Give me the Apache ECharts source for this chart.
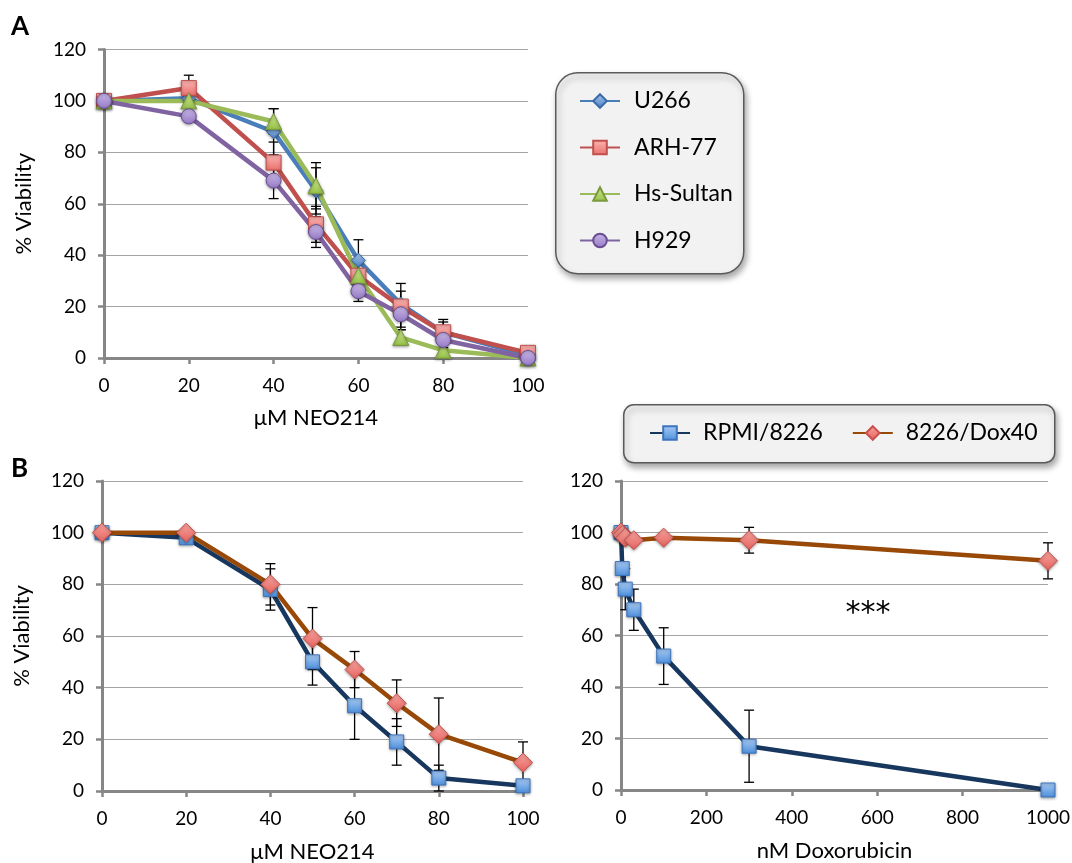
<!DOCTYPE html>
<html>
<head>
<meta charset="utf-8">
<script src="https://cdn.jsdelivr.net/npm/echarts@6/dist/echarts.min.js"></script>
<style>
html,body{margin:0;padding:0;background:#fff;}
#chart{width:1072px;height:863px;}
</style>
</head>
<body>
<div id="chart"></div>
<script>
// ---- Panel A data ----
const xA = [0, 20, 40, 50, 60, 70, 80, 100];
const u266 = [100, 101, 88, 65, 38, 21, 10, 1];
const u266Err = [0, 2, 9, 9, 8, 5, 4, 0];
const arh77 = [100, 105, 76, 52, 32, 20, 10, 2];
const arh77Err = [0, 5, 8, 7, 5, 9, 5, 0];
const hsSultan = [100, 100, 92, 67, 32, 8, 3, 0];
const hsSultanErr = [0, 0, 5, 9, 4, 3, 1, 0];
const h929 = [100, 94, 69, 49, 26, 17, 7, 0];
const h929Err = [0, 2, 7, 6, 4, 5, 3, 0];

// ---- Panel B (left) data ----
const xB = [0, 20, 40, 50, 60, 70, 80, 100];
const rpmiNeo = [100, 98, 78, 50, 33, 19, 5, 2];
const rpmiNeoErr = [0, 0, 8, 9, 13, 9, 5, 0];
const doxNeo = [100, 100, 80, 59, 47, 34, 22, 11];
const doxNeoErr = [0, 0, 8, 12, 7, 9, 14, 8];

// ---- Panel B (right) data ----
const xDox = [0, 3, 10, 30, 100, 300, 1000];
const rpmiDox = [100, 86, 78, 70, 52, 17, 0];
const rpmiDoxErr = [0, 2, 8, 8, 11, 14, 0];
const doxDox = [100, 99, 98, 97, 98, 97, 89];
const doxDoxErr = [0, 0, 0, 0, 0, 5, 7];

const FONT = 'Lato';
const pairs = (xs, ys) => xs.map((x, i) => [x, ys[i]]);
const triples = (xs, ys, es) => xs.map((x, i) => [x, ys[i], es[i]]);

function grad(top, bottom) {
  return new echarts.graphic.LinearGradient(0, 0, 0, 1, [
    {offset: 0, color: top}, {offset: 1, color: bottom}
  ]);
}

function errRender(params, api) {
  const x = api.value(0), y = api.value(1), e = api.value(2);
  if (!e) return null;
  const t = api.coord([x, y + e]);
  const b = api.coord([x, Math.max(0, y - e)]);
  const w = 5;
  const st = {stroke: '#000', lineWidth: 1.3};
  return {
    type: 'group',
    children: [
      {type: 'line', shape: {x1: t[0], y1: t[1], x2: b[0], y2: b[1]}, style: st},
      {type: 'line', shape: {x1: t[0] - w, y1: t[1], x2: t[0] + w, y2: t[1]}, style: st},
      {type: 'line', shape: {x1: b[0] - w, y1: b[1], x2: b[0] + w, y2: b[1]}, style: st}
    ]
  };
}

function errSeries(idx, data) {
  return {
    type: 'custom', xAxisIndex: idx, yAxisIndex: idx, renderItem: errRender,
    data: data, encode: {x: 0, y: 1}, z: 1, silent: true
  };
}

function lineSeries(name, idx, data, lineColor, symbol, size, fill, border) {
  return {
    name: name, type: 'line', xAxisIndex: idx, yAxisIndex: idx, data: data,
    symbol: symbol, symbolSize: size, showSymbol: true,
    lineStyle: {color: lineColor, width: 4.5},
    itemStyle: {color: fill, borderColor: border, borderWidth: 1,
      shadowBlur: 3, shadowColor: 'rgba(0,0,0,0.35)', shadowOffsetY: 1},
    z: 2
  };
}

const axisGray = '#868686';
function xAxis(idx, max, interval, name, gap) {
  return {
    type: 'value', gridIndex: idx, min: 0, max: max, interval: interval,
    name: name, nameLocation: 'middle', nameGap: gap,
    nameTextStyle: {fontFamily: FONT, fontSize: 22, color: '#000'},
    axisLine: {show: true, onZero: false, lineStyle: {color: axisGray, width: 3}},
    axisTick: {show: true, inside: false, length: 6, lineStyle: {color: axisGray, width: 2.5}},
    axisLabel: {fontFamily: FONT, fontSize: 19, color: '#000', margin: 18,
      formatter: v => String(v)},
    splitLine: {show: false}
  };
}
function yAxis(idx, name) {
  return {
    type: 'value', gridIndex: idx, min: 0, max: 120, interval: 20,
    name: name || '', nameLocation: 'middle', nameGap: 69,
    nameTextStyle: {fontFamily: FONT, fontSize: 22, color: '#000'},
    axisLine: {show: true, lineStyle: {color: axisGray, width: 3}},
    axisTick: {show: true, inside: false, length: 6, lineStyle: {color: axisGray, width: 2.5}},
    axisLabel: {fontFamily: FONT, fontSize: 19, color: '#000', margin: 18},
    splitLine: {show: true, lineStyle: {color: '#a5a5a5', width: 1.2}}
  };
}

const fillBlueDia = grad('#a9c6ec', '#4a7fc4');
const fillRedSq = grad('#fbb6b3', '#ea6f6b');
const fillGreenTri = grad('#d2ea93', '#94c047');
const fillPurpleCirc = grad('#c9b8e6', '#9579c6');
const fillBlueSq = grad('#a8cbf4', '#4d8fdc');
const fillRedDia = grad('#f8a4a0', '#e4625d');

const option = {
  animation: false,
  backgroundColor: '#fff',
  textStyle: {fontFamily: FONT},
  grid: [
    {left: 104, top: 49.5, width: 424, height: 308.5, outerBoundsMode: 'none', containLabel: false},
    {left: 102, top: 481, width: 421, height: 310, outerBoundsMode: 'none', containLabel: false},
    {left: 621, top: 481, width: 427, height: 309, outerBoundsMode: 'none', containLabel: false}
  ],
  xAxis: [
    xAxis(0, 100, 20, 'μM NEO214', 49),
    xAxis(1, 100, 20, 'μM NEO214', 50),
    xAxis(2, 1000, 200, 'nM Doxorubicin', 50)
  ],
  yAxis: [yAxis(0, '% Viability'), yAxis(1, '% Viability'), yAxis(2, '')],
  legend: [
    {
      data: ['U266', 'ARH-77', 'Hs-Sultan', 'H929'],
      orient: 'vertical', left: 579, top: 89, padding: 0,
      itemWidth: 40, itemHeight: 17, itemGap: 22.5,
      textStyle: {fontFamily: FONT, fontSize: 23, color: '#000', lineHeight: 24, padding: [0, 0, 0, 9]},
      z: 10
    },
    {
      data: ['RPMI/8226', '8226/Dox40'],
      orient: 'horizontal', left: 649, top: 421, padding: 0,
      itemWidth: 40, itemHeight: 17, itemGap: 29,
      textStyle: {fontFamily: FONT, fontSize: 23, color: '#000', lineHeight: 24, padding: [0, 0, 0, 8]},
      z: 10
    }
  ],
  graphic: [
    {type: 'rect', left: 555, top: 72, z: -1,
      shape: {width: 188, height: 201, r: 22},
      style: {fill: '#f2f2f2', stroke: '#5a5a5a', lineWidth: 1.5,
        shadowBlur: 6, shadowOffsetX: 2, shadowOffsetY: 4, shadowColor: 'rgba(0,0,0,0.35)'}},
    {type: 'rect', left: 623, top: 404, z: -1,
      shape: {width: 431, height: 58, r: 10},
      style: {fill: '#f2f2f2', stroke: '#5a5a5a', lineWidth: 1.5,
        shadowBlur: 6, shadowOffsetX: 2, shadowOffsetY: 4, shadowColor: 'rgba(0,0,0,0.35)'}},
    {type: 'text', x: 11, y: 27, style: {text: 'A', font: 'bold 26px Lato', fill: '#000', textVerticalAlign: 'middle'}},
    {type: 'text', x: 11, y: 469, style: {text: 'B', font: 'bold 26px Lato', fill: '#000', textVerticalAlign: 'middle'}},
    {type: 'text', x: 868, y: 614, style: {text: '***', font: '30px "DejaVu Sans"', fill: '#000', textAlign: 'center', textVerticalAlign: 'middle'}}
  ],
  series: [
    errSeries(0, triples(xA, u266, u266Err)),
    errSeries(0, triples(xA, arh77, arh77Err)),
    errSeries(0, triples(xA, hsSultan, hsSultanErr)),
    errSeries(0, triples(xA, h929, h929Err)),
    lineSeries('U266', 0, pairs(xA, u266), '#4a7ebb', 'diamond', 14, fillBlueDia, '#3a6aa8'),
    lineSeries('ARH-77', 0, pairs(xA, arh77), '#c0504d', 'rect', 15, fillRedSq, '#c0504d'),
    lineSeries('Hs-Sultan', 0, pairs(xA, hsSultan), '#9bbb59', 'triangle', 16, fillGreenTri, '#7a9a3c'),
    lineSeries('H929', 0, pairs(xA, h929), '#8064a2', 'circle', 15, fillPurpleCirc, '#6a4e92'),

    errSeries(1, triples(xB, rpmiNeo, rpmiNeoErr)),
    errSeries(1, triples(xB, doxNeo, doxNeoErr)),
    lineSeries('RPMI/8226', 1, pairs(xB, rpmiNeo), '#17375e', 'rect', 14, fillBlueSq, '#3d74bd'),
    lineSeries('8226/Dox40', 1, pairs(xB, doxNeo), '#984807', 'diamond', 19, fillRedDia, '#c9504b'),

    errSeries(2, triples(xDox, rpmiDox, rpmiDoxErr)),
    errSeries(2, triples(xDox, doxDox, doxDoxErr)),
    lineSeries('RPMI/8226', 2, pairs(xDox, rpmiDox), '#17375e', 'rect', 14, fillBlueSq, '#3d74bd'),
    lineSeries('8226/Dox40', 2, pairs(xDox, doxDox), '#984807', 'diamond', 19, fillRedDia, '#c9504b')
  ]
};

const chart = echarts.init(document.getElementById('chart'), null, {renderer: 'canvas'});
chart.setOption(option);
</script>
</body>
</html>
